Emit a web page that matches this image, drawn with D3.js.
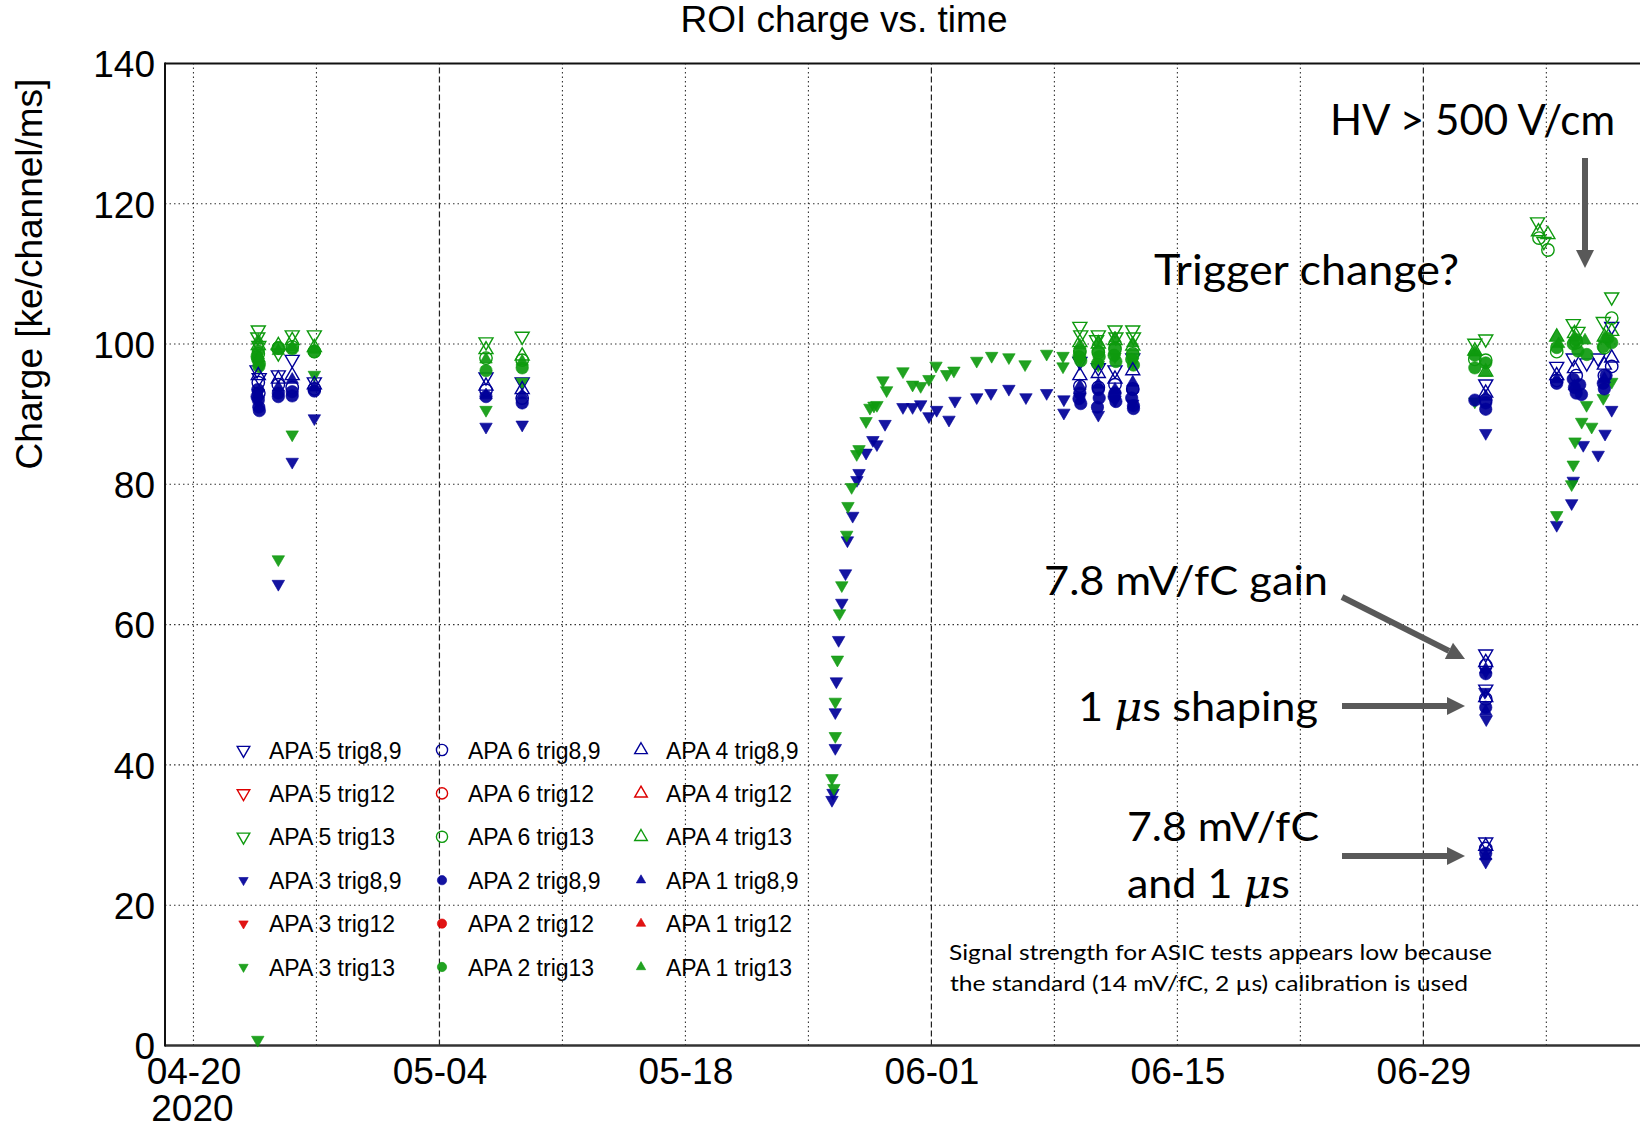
<!DOCTYPE html>
<html>
<head>
<meta charset="utf-8">
<script src="https://cdn.jsdelivr.net/npm/d3@7"></script>
<style>
  body { margin: 0; background: #fff; }
  svg { display: block; }
</style>
</head>
<body>
<svg id="chart"></svg>
<script>
// Values: [days after 2020-04-20, charge in ke/channel/ms]
// open down triangles: APA 5
const apa5_trig89 = [[3.62, 96.3], [3.74, 95.2], [4.83, 95.6], [5.62, 97.8], [6.88, 94.6], [16.65, 95.3], [18.71, 94.6],
  [50.45, 97.5], [51.5, 96.6], [52.45, 96.3], [53.46, 98.0],
  [73.55, 94.3], [73.55, 55.8], [73.55, 50.8], [73.55, 29.0],
  [77.59, 96.8], [78.53, 98.0], [79.3, 97.3], [79.95, 98.0], [80.72, 102.5]];
const apa5_trig12 = [];
const apa5_trig13 = [[3.69, 102.0], [3.66, 101.0], [3.72, 99.8], [4.83, 98.7], [5.62, 101.3], [6.88, 101.3], [16.65, 100.3], [18.71, 101.1],
  [50.45, 102.5], [50.5, 101.3], [51.5, 101.3], [51.4, 100.6], [52.45, 102.0], [52.5, 101.0], [53.46, 102.0], [53.5, 101.0],
  [72.93, 100.1], [73.55, 100.7], [76.5, 117.4], [76.86, 114.6],
  [78.53, 102.9], [78.8, 101.8], [80.24, 103.2], [80.72, 106.7]];
// open circles: APA 6
const apa6_trig89 = [[3.69, 94.5], [3.72, 93.0], [4.83, 94.2], [5.62, 93.8], [6.88, 93.6], [16.65, 93.4], [18.71, 92.3],
  [50.45, 94.0], [51.5, 93.8], [52.45, 94.2], [53.46, 93.6],
  [73.55, 92.0], [73.55, 54.2], [73.55, 49.4], [73.55, 28.1],
  [77.59, 94.8], [78.7, 95.5], [80.3, 95.5], [80.72, 96.8]];
const apa6_trig12 = [];
const apa6_trig13 = [[3.69, 98.6], [4.83, 99.4], [5.62, 99.6], [6.88, 98.9], [16.65, 98.0], [18.71, 97.7],
  [50.45, 99.0], [51.5, 98.8], [52.45, 99.3], [53.46, 98.6],
  [72.93, 97.8], [73.55, 97.7], [76.58, 115.1], [77.09, 113.4],
  [77.59, 98.9], [78.7, 100.2], [80.3, 99.5], [80.72, 103.7]];
// open up triangles: APA 4
const apa4_trig89 = [[3.69, 95.5], [4.83, 95.0], [5.62, 95.5], [6.88, 94.2], [16.65, 94.0], [18.71, 93.5],
  [50.45, 95.5], [51.5, 95.8], [52.45, 95.0], [53.46, 96.2],
  [73.55, 93.0], [73.55, 54.6], [73.55, 49.6], [73.55, 28.4],
  [77.59, 95.5], [78.6, 96.5], [80.3, 97.0], [80.72, 98.0]];
const apa4_trig12 = [];
const apa4_trig13 = [[3.69, 99.8], [4.83, 99.8], [5.62, 100.5], [6.88, 99.5], [16.65, 99.2], [18.71, 98.3],
  [50.45, 100.2], [51.5, 100.0], [52.45, 100.5], [53.46, 99.7],
  [72.93, 99.0], [73.55, 96.0], [76.55, 116.0], [77.09, 115.6],
  [77.59, 101.0], [78.6, 101.5], [80.3, 101.0], [80.72, 101.8]];
// full down triangles: APA 3
const apa3_trig89 = [[3.69, 93.0], [4.83, 65.8], [5.62, 83.2], [6.88, 89.4], [16.65, 88.2], [18.71, 88.5],
  [36.34, 35.0], [36.40, 36.0], [36.53, 42.4], [36.53, 47.5], [36.59, 51.9], [36.72, 57.8], [36.90, 63.1], [37.11, 67.3],
  [37.22, 72.0], [37.52, 75.5], [37.76, 80.6], [37.88, 81.6], [38.28, 84.5], [38.67, 86.3], [38.90, 85.7], [39.36, 88.6],
  [40.38, 91.0], [40.93, 91.0], [41.39, 91.4], [41.86, 89.7], [42.30, 90.6], [43.0, 89.2], [43.34, 91.9], [44.58, 92.4],
  [45.39, 93.0], [46.41, 93.6], [47.38, 92.4], [48.56, 93.0], [49.54, 92.1], [49.54, 90.2],
  [50.45, 92.5], [51.5, 89.9], [52.45, 92.0], [53.46, 91.5],
  [73.55, 87.3], [73.55, 53.3], [73.5, 50.4], [73.58, 46.5], [73.55, 26.2],
  [77.59, 74.2], [78.44, 77.3], [78.53, 80.5], [79.1, 85.6], [79.95, 84.2], [80.34, 87.2], [80.72, 90.6]];
const apa3_trig12 = [];
const apa3_trig13 = [[3.66, 0.8], [3.69, 97.5], [4.83, 69.3], [5.62, 87.1], [6.88, 95.6], [16.65, 90.6], [18.71, 94.6],
  [36.34, 38.1], [36.45, 36.7], [36.53, 44.1], [36.53, 49.0], [36.65, 55.0], [36.77, 61.6], [36.90, 65.6], [37.18, 72.8],
  [37.25, 76.9], [37.46, 79.6], [37.75, 84.3], [37.88, 85.0], [38.28, 89.0], [38.50, 90.9], [38.73, 91.2], [38.90, 91.3],
  [39.24, 94.8], [39.45, 93.4], [40.38, 96.1], [40.93, 94.2], [41.39, 94.0], [41.86, 95.0], [42.26, 96.9], [42.87, 95.7],
  [43.28, 96.2], [44.58, 97.6], [45.43, 98.3], [46.41, 98.1], [47.33, 97.1], [48.56, 98.6], [49.49, 98.3], [49.49, 96.8],
  [50.45, 97.8], [51.5, 97.0], [52.45, 98.2], [53.46, 97.5],
  [72.93, 91.8], [77.59, 75.6], [78.44, 80.0], [78.53, 82.8], [78.63, 86.1], [79.01, 88.9], [79.29, 91.3], [79.58, 88.2],
  [80.24, 92.3], [80.72, 94.6]];
// full circles: APA 2
const apa2_trig89 = [[3.69, 92.0], [3.72, 91.0], [3.66, 93.5], [3.62, 92.5], [3.75, 90.5], [4.83, 93.0], [4.83, 92.5],
  [5.62, 93.2], [5.62, 92.6], [6.88, 93.3], [16.65, 92.5], [18.71, 91.6],
  [50.45, 93.0], [50.5, 91.5], [50.4, 92.2], [51.5, 93.5], [51.45, 91.0], [51.55, 92.3], [52.45, 93.0], [52.5, 91.8], [52.4, 92.5],
  [53.46, 93.5], [53.5, 91.2], [53.4, 92.3], [53.5, 90.8],
  [72.93, 92.0], [73.55, 91.6], [73.55, 90.7], [73.55, 53.0], [73.55, 48.2], [73.55, 27.4],
  [77.59, 94.4], [78.53, 95.0], [78.6, 93.8], [78.7, 93.0], [78.9, 94.2], [79.0, 92.8], [80.24, 94.4], [80.3, 93.6], [80.4, 95.5]];
const apa2_trig12 = [];
const apa2_trig13 = [[3.69, 99.0], [3.66, 97.8], [3.72, 96.8], [3.62, 98.2], [3.75, 97.2], [4.83, 99.5], [5.62, 99.3], [6.88, 98.9],
  [16.65, 96.2], [18.71, 96.6],
  [50.45, 98.8], [50.5, 97.6], [50.4, 98.2], [51.5, 99.0], [51.45, 97.2], [51.55, 98.2], [52.45, 99.5], [52.5, 97.5], [52.4, 98.4],
  [53.46, 98.5], [53.5, 97.0], [53.4, 97.8],
  [72.93, 98.4], [72.93, 96.6], [73.55, 97.3],
  [77.59, 99.5], [78.53, 100.0], [78.7, 100.6], [78.8, 99.0], [79.3, 98.5], [80.24, 99.6], [80.5, 100.8], [80.72, 100.2]];
// full up triangles: APA 1
const apa1_trig89 = [[3.69, 92.8], [4.83, 93.8], [5.62, 94.9], [6.88, 93.8], [16.65, 92.7], [18.71, 92.7],
  [50.45, 94.0], [51.5, 94.2], [52.45, 93.5], [53.46, 94.5],
  [73.55, 92.5], [73.55, 53.6], [73.55, 47.6], [73.55, 27.0],
  [77.59, 95.0], [78.6, 94.0], [80.3, 95.0]];
const apa1_trig12 = [];
const apa1_trig13 = [[3.69, 100.5], [3.72, 98.0], [4.83, 99.0], [5.62, 99.5], [6.88, 99.2], [16.65, 97.8], [18.71, 97.5],
  [50.45, 99.8], [51.5, 100.3], [52.45, 100.8], [53.46, 100.1],
  [72.93, 98.8], [73.55, 95.9],
  [77.59, 101.0], [77.7, 100.0], [78.6, 101.0], [79.2, 100.5], [80.3, 100.8]];

// axis ticks
const tickDays = [0, 14, 28, 42, 56, 70];
const tickLabels = ["04-20", "05-04", "05-18", "06-01", "06-15", "06-29"];
const yTicks = [0, 20, 40, 60, 80, 100, 120, 140];

const BLUE = "#000099", RED = "#dd0000", GREEN = "#0e9a0e";

const series = [
  { name: "APA 5 trig8,9", data: apa5_trig89, shape: "down", filled: false, color: BLUE },
  { name: "APA 5 trig12",  data: apa5_trig12, shape: "down", filled: false, color: RED },
  { name: "APA 5 trig13",  data: apa5_trig13, shape: "down", filled: false, color: GREEN },
  { name: "APA 3 trig8,9", data: apa3_trig89, shape: "down", filled: true, color: BLUE },
  { name: "APA 3 trig12",  data: apa3_trig12, shape: "down", filled: true, color: RED },
  { name: "APA 3 trig13",  data: apa3_trig13, shape: "down", filled: true, color: GREEN },
  { name: "APA 6 trig8,9", data: apa6_trig89, shape: "circle", filled: false, color: BLUE },
  { name: "APA 6 trig12",  data: apa6_trig12, shape: "circle", filled: false, color: RED },
  { name: "APA 6 trig13",  data: apa6_trig13, shape: "circle", filled: false, color: GREEN },
  { name: "APA 2 trig8,9", data: apa2_trig89, shape: "circle", filled: true, color: BLUE },
  { name: "APA 2 trig12",  data: apa2_trig12, shape: "circle", filled: true, color: RED },
  { name: "APA 2 trig13",  data: apa2_trig13, shape: "circle", filled: true, color: GREEN },
  { name: "APA 4 trig8,9", data: apa4_trig89, shape: "up", filled: false, color: BLUE },
  { name: "APA 4 trig12",  data: apa4_trig12, shape: "up", filled: false, color: RED },
  { name: "APA 4 trig13",  data: apa4_trig13, shape: "up", filled: false, color: GREEN },
  { name: "APA 1 trig8,9", data: apa1_trig89, shape: "up", filled: true, color: BLUE },
  { name: "APA 1 trig12",  data: apa1_trig12, shape: "up", filled: true, color: RED },
  { name: "APA 1 trig13",  data: apa1_trig13, shape: "up", filled: true, color: GREEN }
];

const W = 1640, H = 1127;
const t0 = Date.UTC(2020, 3, 20);
const dayToDate = d => new Date(t0 + d * 864e5);

const svg = d3.select("#chart").attr("width", W).attr("height", H)
  .style("font-family", "'Liberation Sans', Arial, sans-serif");
svg.append("rect").attr("width", W).attr("height", H).attr("fill", "#fff");

// plot frame runs past the right edge of the picture
const x = d3.scaleTime()
  .domain([dayToDate(-1.62), dayToDate(83)])
  .range([165, 165 + 84.62 * 17.57]);
const y = d3.scaleLinear().domain([0, 140]).range([1045.5, 63.4]);

// grid
const grid = svg.append("g");
d3.range(0, 84, 7).forEach(d => {
  const major = (d - 14) % 28 === 0;
  grid.append("line")
    .attr("x1", x(dayToDate(d))).attr("x2", x(dayToDate(d)))
    .attr("y1", y(0)).attr("y2", y(140))
    .attr("stroke", major ? "#222" : "#333")
    .attr("stroke-width", major ? 1.2 : 1.1)
    .attr("stroke-dasharray", major ? "6,3" : "1.5,3");
});
yTicks.filter(v => v > 0 && v < 140).forEach(v => {
  grid.append("line")
    .attr("x1", x.range()[0]).attr("x2", x.range()[1])
    .attr("y1", y(v)).attr("y2", y(v))
    .attr("stroke", "#333").attr("stroke-width", 1.1)
    .attr("stroke-dasharray", "1.5,3");
});

// frame
svg.append("line").attr("x1", 165).attr("x2", W + 20).attr("y1", y(140)).attr("y2", y(140))
  .attr("stroke", "#111").attr("stroke-width", 2);
svg.append("line").attr("x1", 165).attr("x2", W + 20).attr("y1", y(0)).attr("y2", y(0))
  .attr("stroke", "#333").attr("stroke-width", 2.5);
svg.append("line").attr("x1", 165).attr("x2", 165).attr("y1", y(140) - 1).attr("y2", y(0) + 1)
  .attr("stroke", "#111").attr("stroke-width", 2);

// y axis labels
const yAxis = d3.axisLeft(y).tickValues(yTicks).tickSize(0).tickPadding(10);
const gy = svg.append("g").attr("transform", "translate(165,0)").call(yAxis);
gy.select(".domain").remove();
gy.selectAll("text").attr("font-size", 37).attr("fill", "#000")
  .attr("font-family", "'Liberation Sans', Arial, sans-serif").attr("dy", "0.36em");

// x axis labels
const xAxis = d3.axisBottom(x).tickValues(tickDays.map(dayToDate)).tickSize(0)
  .tickFormat((d, i) => tickLabels[i]);
const gx = svg.append("g").attr("transform", `translate(0,${y(0)})`).call(xAxis);
gx.select(".domain").remove();
gx.selectAll("text").attr("font-size", 37).attr("fill", "#000")
  .attr("font-family", "'Liberation Sans', Arial, sans-serif").attr("dy", null).attr("y", 38.5);
svg.append("text").attr("x", x(dayToDate(0)) - 1).attr("y", 1121)
  .attr("text-anchor", "middle").attr("font-size", 37).text("2020");

// titles
svg.append("text").attr("x", 844).attr("y", 32).attr("text-anchor", "middle")
  .attr("font-size", 37).text("ROI charge vs. time");
svg.append("text").attr("transform", "translate(42,274) rotate(-90)")
  .attr("text-anchor", "middle").attr("font-size", 37).text("Charge [ke/channel/ms]");

// markers
function markerPath(shape, filled, scale) {
  const k = scale || 1;
  if (shape === "circle") {
    const r = (filled ? 6.2 : 6.2) * k;
    return d3.symbol(d3.symbolCircle, Math.PI * r * r)();
  }
  const side = (filled ? 12.5 : 14) * k;
  return d3.symbol(d3.symbolTriangle, side * side * Math.sqrt(3) / 4)();
}
function drawMarker(g, shape, filled, color, cx, cy, scale) {
  const rot = shape === "down" ? " rotate(180)" : "";
  g.append("path")
    .attr("d", markerPath(shape, filled, scale))
    .attr("transform", `translate(${cx},${cy})${rot}`)
    .attr("fill", filled ? color : "none")
    .attr("fill-opacity", filled ? 0.92 : null)
    .attr("stroke", color)
    .attr("stroke-width", filled ? 0.6 : 1.4);
}

const marks = svg.append("g");
series.forEach(s => {
  s.data.forEach(p => drawMarker(marks, s.shape, s.filled, s.color, x(dayToDate(p[0])), y(p[1])));
});

// legend: 3 columns (down triangle, circle, up triangle), 6 rows
const legendCols = [["APA 5", "APA 3"], ["APA 6", "APA 2"], ["APA 4", "APA 1"]];
const markX = [243.5, 442, 641], textX = [269, 468, 666];
const legend = svg.append("g");
legendCols.forEach((apas, c) => {
  const rows = series.filter(s => apas.some(a => s.name.startsWith(a + " ")));
  rows.forEach((s, r) => {
    const cy = 750 + r * 43.4;
    drawMarker(legend, s.shape, s.filled, s.color, markX[c], cy, s.filled ? 0.75 : 0.9);
    legend.append("text").attr("x", textX[c]).attr("y", cy + 8.5)
      .attr("font-size", 23).text(s.name);
  });
});

// annotations
const ann = svg.append("g").attr("font-family", "Lato, 'Open Sans', sans-serif").attr("fill", "#000");
function note(txt, x0, base, size, len) {
  const t = ann.append("text").attr("x", x0).attr("y", base).attr("font-size", size);
  if (len) t.attr("textLength", len).attr("lengthAdjust", "spacingAndGlyphs");
  return t.text(txt);
}
function noteMu(before, after, x0, base, size, len) {
  const t = ann.append("text").attr("x", x0).attr("y", base).attr("font-size", size)
    .attr("textLength", len).attr("lengthAdjust", "spacingAndGlyphs");
  t.append("tspan").text(before);
  t.append("tspan").attr("font-style", "italic").attr("font-family", "'DejaVu Serif', serif").text("\u03bc");
  t.append("tspan").text(after);
}
note("HV > 500 V/cm", 1330, 135, 43, 285);
note("Trigger change?", 1154, 285, 43, 305);
note("7.8 mV/fC gain", 1044, 595, 41, 284);
noteMu("1 ", "s shaping", 1078, 721, 41, 240);
note("7.8 mV/fC", 1127, 841, 41, 192);
noteMu("and 1 ", "s", 1127, 898, 41, 163);
note("Signal strength for ASIC tests appears low because", 949, 960, 22, 543);
note("the standard (14 mV/fC, 2 \u00b5s) calibration is used", 950, 991, 22, 518);

function arrow(x1, y1, x2, y2) {
  const a = Math.atan2(y2 - y1, x2 - x1), hl = 18, hw = 9;
  const bx = x2 - hl * Math.cos(a), by = y2 - hl * Math.sin(a);
  svg.append("line").attr("x1", x1).attr("y1", y1).attr("x2", bx).attr("y2", by)
    .attr("stroke", "#595959").attr("stroke-width", 6);
  const px = -Math.sin(a) * hw, py = Math.cos(a) * hw;
  svg.append("path")
    .attr("d", `M${x2},${y2}L${bx + px},${by + py}L${bx - px},${by - py}Z`)
    .attr("fill", "#595959");
}
arrow(1585, 158, 1585, 268);
arrow(1342, 597, 1465, 659);
arrow(1342, 706, 1465, 706);
arrow(1342, 856, 1465, 856);
</script>
</body>
</html>
